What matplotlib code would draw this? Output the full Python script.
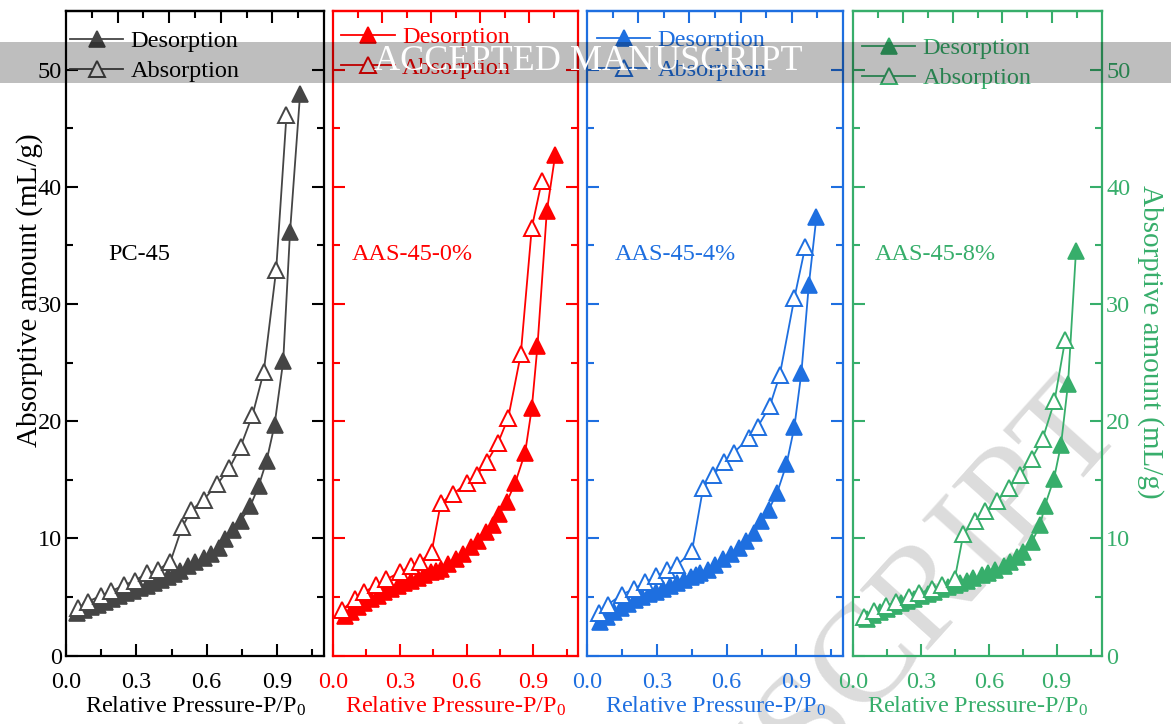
import matplotlib
matplotlib.use("Agg")
import matplotlib.pyplot as plt
from matplotlib.patches import Rectangle
from matplotlib.ticker import FixedLocator, NullFormatter

plt.rcParams['font.family'] = ['Liberation Serif', 'DejaVu Serif']
plt.rcParams['mathtext.fontset'] = 'custom'
plt.rcParams['mathtext.rm'] = 'Liberation Serif'
plt.rcParams['mathtext.it'] = 'Liberation Serif:italic'

# ---------------- data ----------------
panel_names = ["PC-45", "AAS-45-0%", "AAS-45-4%", "AAS-45-8%"]
panel_colors = ["#000000", "#ff0000", "#1e6fe0", "#37ae6b"]
series_colors = ["#454545", "#ff0000", "#1e6fe0", "#37ae6b"]

# PC-45
x1_des = [0.047, 0.075, 0.105, 0.135, 0.165, 0.195, 0.225, 0.255, 0.285, 0.315,
          0.345, 0.375, 0.405, 0.435, 0.46, 0.488, 0.519, 0.552, 0.587, 0.619,
          0.652, 0.68, 0.713, 0.744, 0.786, 0.822, 0.855, 0.889, 0.926, 0.955, 0.998]
y1_des = [3.6, 3.85, 4.1, 4.35, 4.6, 4.85, 5.05, 5.3, 5.5, 5.75,
          5.95, 6.2, 6.45, 6.7, 6.95, 7.2, 7.6, 8.0, 8.3, 8.7,
          9.2, 9.9, 10.7, 11.5, 12.75, 14.5, 16.6, 19.65, 25.1, 36.1, 47.9]
x1_abs = [0.05, 0.093, 0.15, 0.193, 0.249, 0.293, 0.346, 0.391, 0.445, 0.495,
          0.535, 0.587, 0.644, 0.697, 0.744, 0.795, 0.843, 0.896, 0.94]
y1_abs = [4.05, 4.6, 5.1, 5.5, 6.0, 6.4, 7.0, 7.3, 8.0, 10.95,
          12.4, 13.3, 14.6, 16.0, 17.8, 20.5, 24.2, 32.9, 46.1]

# AAS-45-0%
x2_des = [0.052, 0.08, 0.11, 0.14, 0.17, 0.2, 0.23, 0.26, 0.29, 0.32,
          0.35, 0.38, 0.41, 0.44, 0.462, 0.483, 0.517, 0.552, 0.585, 0.618,
          0.652, 0.685, 0.717, 0.745, 0.78, 0.8175, 0.8625, 0.8925, 0.918, 0.96, 0.9975]
y2_des = [3.35, 3.75, 4.15, 4.5, 4.8, 5.1, 5.4, 5.65, 5.9, 6.15,
          6.4, 6.65, 6.9, 7.1, 7.25, 7.4, 7.8, 8.2, 8.7, 9.25,
          9.8, 10.5, 11.1, 12.1, 13.1, 14.7, 17.3, 21.1, 26.4, 37.9, 42.7]
x2_abs = [0.042, 0.098, 0.138, 0.195, 0.24, 0.30, 0.348, 0.39, 0.4425, 0.484,
          0.54, 0.60, 0.645, 0.69, 0.74, 0.787, 0.843, 0.8925, 0.9375]
y2_abs = [3.9, 4.85, 5.4, 6.0, 6.5, 7.1, 7.6, 8.0, 8.8, 13.0,
          13.8, 14.7, 15.4, 16.5, 18.1, 20.3, 25.7, 36.5, 40.5]

# AAS-45-4%
x3_des = [0.057, 0.085, 0.115, 0.145, 0.175, 0.205, 0.235, 0.265, 0.295, 0.325,
          0.355, 0.385, 0.415, 0.445, 0.467, 0.487, 0.519, 0.552, 0.585, 0.619,
          0.652, 0.685, 0.716, 0.748, 0.78, 0.817, 0.857, 0.891, 0.921, 0.953, 0.9857]
y3_des = [2.9, 3.3, 3.7, 4.05, 4.4, 4.7, 5.0, 5.25, 5.45, 5.7,
          5.95, 6.2, 6.45, 6.7, 6.9, 7.05, 7.3, 7.75, 8.2, 8.7,
          9.2, 9.75, 10.45, 11.45, 12.4, 13.9, 16.3, 19.5, 24.1, 31.6, 37.4]
x3_abs = [0.05, 0.09, 0.15, 0.203, 0.25, 0.298, 0.344, 0.387, 0.451, 0.499,
          0.542, 0.59, 0.63, 0.695, 0.733, 0.785, 0.828, 0.891, 0.938]
y3_abs = [3.6, 4.35, 5.2, 5.7, 6.25, 6.75, 7.3, 7.7, 8.9, 14.3,
          15.4, 16.5, 17.3, 18.55, 19.5, 21.25, 23.9, 30.5, 34.9]

# AAS-45-8%
x4_des = [0.062, 0.09, 0.12, 0.15, 0.18, 0.21, 0.24, 0.27, 0.3, 0.33,
          0.36, 0.39, 0.42, 0.45, 0.474, 0.503, 0.532, 0.569, 0.598, 0.628,
          0.665, 0.694, 0.723, 0.753, 0.79, 0.826, 0.848, 0.888, 0.919, 0.95, 0.985]
y4_des = [3.15, 3.45, 3.75, 4.0, 4.25, 4.45, 4.65, 4.85, 5.05, 5.25,
          5.45, 5.65, 5.85, 6.05, 6.2, 6.4, 6.6, 6.85, 7.05, 7.3,
          7.6, 8.0, 8.4, 8.8, 9.7, 11.1, 12.8, 15.1, 18.0, 23.2, 34.5]
x4_abs = [0.05, 0.094, 0.147, 0.191, 0.246, 0.29, 0.35, 0.393, 0.449, 0.488,
          0.54, 0.585, 0.638, 0.687, 0.738, 0.79, 0.838, 0.89, 0.937]
y4_abs = [3.3, 3.8, 4.2, 4.6, 5.0, 5.3, 5.7, 6.0, 6.5, 10.4,
          11.5, 12.3, 13.2, 14.3, 15.4, 16.8, 18.5, 21.7, 26.9]

des_x = [x1_des, x2_des, x3_des, x4_des]
des_y = [y1_des, y2_des, y3_des, y4_des]
abs_x = [x1_abs, x2_abs, x3_abs, x4_abs]
abs_y = [y1_abs, y2_abs, y3_abs, y4_abs]

x_ticks = [0.0, 0.3, 0.6, 0.9]
x_tick_labels = ["0.0", "0.3", "0.6", "0.9"]
y_ticks = [0, 10, 20, 30, 40, 50]
y_tick_labels = ["0", "10", "20", "30", "40", "50"]
xlabel = r"Relative Pressure-P/P$\mathregular{_0}$"
ylabel = "Absorptive amount (mL/g)"
legend_labels = ["Desorption", "Absorption"]

# ---------------- layout ----------------
W, H = 1171, 724
fig = plt.figure(figsize=(W / 100, H / 100), dpi=100)
fig.patch.set_facecolor("white")

panel_px = [(66, 324), (333, 578), (587, 843), (853, 1102)]
top_px, bot_px = 11, 655.5
legend_anchor = [(0.0155, 0.970), (0.033, 0.976), (0.039, 0.972), (0.036, 0.959)]
label_x = [0.18, 0.085, 0.12, 0.097]
FS = 17.5

for i in range(4):
    l, r = panel_px[i]
    ax = fig.add_axes([l / W, 1 - bot_px / H, (r - l) / W, (bot_px - top_px) / H])
    ax.set_facecolor("none")
    pc = panel_colors[i]
    sc = series_colors[i]
    ax.plot(des_x[i], des_y[i], color=sc, lw=1.3, marker="^", ms=12,
            mfc=sc, mec=sc, mew=1.2, label=legend_labels[0], zorder=3)
    ax.plot(abs_x[i], abs_y[i], color=sc, lw=1.3, marker="^", ms=12,
            mfc="white", mec=sc, mew=1.4, label=legend_labels[1], zorder=4)
    ax.set_xlim(0, 1.1)
    ax.set_ylim(0, 55)
    for s in ax.spines.values():
        s.set_color(pc)
        s.set_linewidth(1.6)
    ax.xaxis.set_major_locator(FixedLocator(x_ticks))
    ax.xaxis.set_minor_locator(FixedLocator([0.15, 0.45, 0.75, 1.05]))
    ax.set_xticklabels(x_tick_labels)
    ax.yaxis.set_major_locator(FixedLocator(y_ticks))
    ax.yaxis.set_minor_locator(FixedLocator([5, 15, 25, 35, 45]))
    ax.tick_params(which="both", direction="in", color=pc, labelcolor=pc,
                   left=True, right=True, bottom=True, top=False,
                   labelsize=FS, width=1.5)
    ax.tick_params(which="major", length=8.5)
    ax.tick_params(which="minor", length=5)
    ax.tick_params(axis="x", which="major", pad=12)
    if i == 0:
        ax.set_yticklabels(y_tick_labels)
        ax.tick_params(axis="y", labelleft=True, labelright=False, pad=3)
        ax.set_ylabel(ylabel, fontsize=21, color=pc, labelpad=-4)
        ax.yaxis.label.set_y(0.567)
    elif i == 3:
        ax.set_yticklabels(y_tick_labels)
        ax.tick_params(axis="y", labelleft=False, labelright=True, pad=3)
        ax.yaxis.set_label_position("right")
        ax.set_ylabel(ylabel, fontsize=21, color=pc, rotation=270, labelpad=24)
        ax.yaxis.label.set_y(0.486)
    else:
        ax.tick_params(axis="y", labelleft=False, labelright=False)
    ax.set_xlabel(xlabel, fontsize=FS, color=pc, labelpad=1)

    sec = ax.secondary_xaxis("top")
    sec.xaxis.set_major_locator(FixedLocator([0.22, 0.44, 0.66, 0.88]))
    sec.xaxis.set_minor_locator(FixedLocator([0.11, 0.33, 0.55, 0.77, 0.99]))
    sec.xaxis.set_major_formatter(NullFormatter())
    sec.tick_params(which="both", direction="in", color=pc, width=1.5)
    sec.tick_params(which="major", length=8.5)
    sec.tick_params(which="minor", length=5)
    sec.spines["top"].set_color(pc)
    sec.spines["top"].set_linewidth(1.6)

    ax.text(label_x[i], 34.2, panel_names[i], color=pc, fontsize=FS,
            va="center", ha="left")

    leg = ax.legend(loc="upper left", bbox_to_anchor=legend_anchor[i], frameon=False,
                    fontsize=FS, handlelength=2.2, handletextpad=0.3,
                    labelspacing=0.33, borderaxespad=0.0, borderpad=0.0)
    for t in leg.get_texts():
        t.set_color(pc)

# diagonal faint watermark
fig.text(1100 / W, 1 - 405 / H, "MANUSCRIPT", fontsize=100, color="#dcdcdc",
         rotation=48, ha="right", va="center", rotation_mode="anchor", zorder=-1)

# horizontal watermark band
fig.patches.append(Rectangle((0, 1 - 83 / H), 1, 41 / H, transform=fig.transFigure,
                             facecolor="black", alpha=0.255, edgecolor="none", zorder=10))
fig.text(588 / W, 1 - 62 / H, "ACCEPTED MANUSCRIPT", fontsize=26, color="white",
         ha="center", va="center", zorder=11)

fig.savefig("out.png", dpi=100)
